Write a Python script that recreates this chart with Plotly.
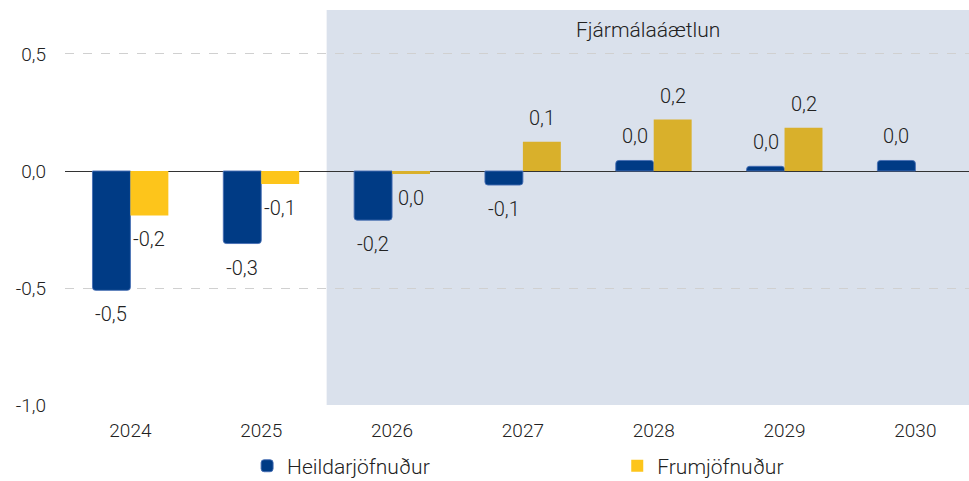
import plotly.graph_objects as go

years = ["2024", "2025", "2026", "2027", "2028", "2029", "2030"]
heildar = [-0.51, -0.31, -0.21, -0.06, 0.045, 0.02, 0.045]
frum = [-0.19, -0.056, -0.013, 0.125, 0.22, 0.185, None]
series_names = ["Heildarjöfnuður", "Frumjöfnuður"]
y_ticks = [-1.0, -0.5, 0.0, 0.5]
shade_label = "Fjármálaáætlun"
forecast_start = 2  # index of first year in the shaded period

BLUE = "#003B85"
YELLOW = "#FDC51B"
YELLOW_SHADED = "#D9B02B"
FONT = "Roboto"
TXT = "#222222"
X_MAX = 6.41

yellow_colors = [YELLOW if i < forecast_start else YELLOW_SHADED for i in range(len(years))]

fig = go.Figure()
fig.add_trace(go.Bar(
    x=years, y=heildar, name=series_names[0], legend="legend",
    marker=dict(color=BLUE, cornerradius=3, line=dict(color="rgba(70,110,180,0.9)", width=1)),
))
fig.add_trace(go.Bar(
    x=years, y=frum, name=series_names[1], legend="legend2",
    marker=dict(color=yellow_colors, line=dict(width=0)),
))


def fmt(v):
    s = f"{v:.1f}"
    if s == "-0.0":
        s = "0.0"
    return s.replace(".", ",")


annotations = []
for vals, shift in ((heildar, -19), (frum, 19)):
    for i, v in enumerate(vals):
        if v is None:
            continue
        annotations.append(dict(
            x=i, y=v, xref="x", yref="y", text=fmt(v), showarrow=False,
            xshift=shift, yshift=(24 if v >= 0 else -24), yanchor="middle",
            font=dict(family=FONT, size=20, color=TXT, weight=300),
        ))

annotations.append(dict(
    x=(forecast_start - 0.5 + X_MAX) / 2, y=0.949, xref="x", yref="paper",
    text=shade_label, showarrow=False, yanchor="middle",
    font=dict(family=FONT, size=21, color=TXT, weight=300),
))

legend_common = dict(
    orientation="h", xref="container", yref="container", xanchor="left",
    y=0.031, yanchor="middle", itemwidth=30,
    font=dict(family=FONT, size=21, color=TXT, weight=300),
    bgcolor="rgba(0,0,0,0)",
)

fig.update_layout(
    width=969, height=481,
    margin=dict(l=65, r=0, t=10, b=76),
    paper_bgcolor="white", plot_bgcolor="white",
    barmode="group", bargap=0.42, bargroupgap=0,
    separators=", ",
    font=dict(family=FONT, size=19, color=TXT, weight=300),
    shapes=[dict(
        type="rect", xref="x", yref="paper",
        x0=forecast_start - 0.5, x1=X_MAX, y0=0, y1=1,
        fillcolor="#DAE1EC", line=dict(width=0), layer="below",
    )],
    annotations=annotations,
    legend=dict(x=0.255, **legend_common),
    legend2=dict(x=0.637, **legend_common),
    showlegend=True,
)
fig.update_xaxes(
    type="category", range=[-0.5, X_MAX], showgrid=False, showline=False,
    ticks="", ticklabelstandoff=12, zeroline=False,
)
fig.update_yaxes(
    range=[-1.0, 0.688], tickvals=y_ticks, ticktext=[fmt(t) for t in y_ticks],
    showgrid=True, gridcolor="#D0D0D0", griddash="dash", gridwidth=1,
    zeroline=True, zerolinecolor="#333333", zerolinewidth=1,
    showline=False, ticks="", ticklabelstandoff=18,
)

fig.write_html(
    "out.html",
    config={"displayModeBar": False},
    post_script="document.body.style.margin='0';document.body.style.overflow='hidden';",
)
